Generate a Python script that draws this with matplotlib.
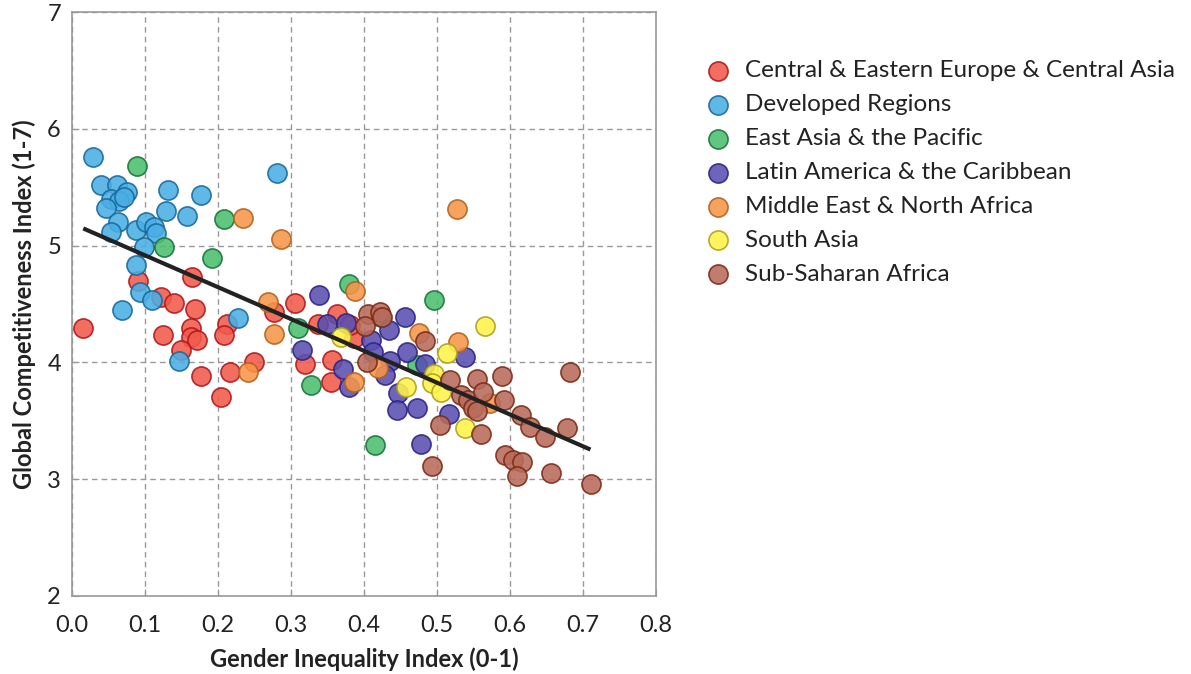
import matplotlib.pyplot as plt
import numpy as np

# Gender Inequality Index (x) vs Global Competitiveness Index (y), by region
cee_x = [0.015, 0.090, 0.164, 0.122, 0.140, 0.168, 0.124, 0.163, 0.163, 0.171, 0.150, 0.213, 0.208,
         0.250, 0.217, 0.177, 0.204, 0.277, 0.305, 0.337, 0.363, 0.386, 0.319, 0.357, 0.355, 0.381]
cee_y = [4.29, 4.70, 4.73, 4.56, 4.51, 4.46, 4.23, 4.29, 4.22, 4.19, 4.11, 4.33, 4.23,
         4.00, 3.92, 3.88, 3.70, 4.43, 4.51, 4.33, 4.41, 4.21, 3.99, 4.02, 3.83, 4.32]

dev_x = [0.029, 0.040, 0.061, 0.076, 0.053, 0.065, 0.071, 0.046, 0.132, 0.177, 0.281, 0.129, 0.158,
         0.063, 0.053, 0.088, 0.101, 0.113, 0.115, 0.099, 0.087, 0.093, 0.109, 0.068, 0.228, 0.147]
dev_y = [5.76, 5.52, 5.52, 5.46, 5.40, 5.38, 5.42, 5.32, 5.48, 5.43, 5.62, 5.30, 5.25,
         5.20, 5.12, 5.13, 5.20, 5.16, 5.11, 4.99, 4.83, 4.60, 4.53, 4.45, 4.38, 4.01]

eap_x = [0.089, 0.208, 0.126, 0.192, 0.380, 0.310, 0.328, 0.473, 0.496, 0.415, 0.424]
eap_y = [5.68, 5.23, 4.99, 4.89, 4.67, 4.29, 3.81, 3.98, 4.53, 3.29, 4.39]

lac_x = [0.338, 0.350, 0.375, 0.315, 0.372, 0.379, 0.410, 0.413, 0.434, 0.456, 0.459, 0.436, 0.429,
         0.447, 0.445, 0.473, 0.538, 0.484, 0.517, 0.478]
lac_y = [4.58, 4.33, 4.34, 4.11, 3.94, 3.79, 4.19, 4.09, 4.28, 4.39, 4.09, 4.01, 3.89,
         3.74, 3.59, 3.61, 4.05, 3.99, 3.56, 3.30]

mena_x = [0.234, 0.286, 0.269, 0.277, 0.241, 0.388, 0.387, 0.420, 0.475, 0.528, 0.529, 0.573]
mena_y = [5.24, 5.06, 4.52, 4.24, 3.92, 4.61, 3.83, 3.95, 4.25, 5.31, 4.17, 3.65]

sa_x = [0.369, 0.458, 0.566, 0.514, 0.496, 0.494, 0.506, 0.538]
sa_y = [4.22, 3.79, 4.31, 4.08, 3.90, 3.82, 3.75, 3.44]

ssa_x = [0.406, 0.422, 0.402, 0.404, 0.484, 0.589, 0.555, 0.518, 0.682, 0.533, 0.543, 0.564, 0.592,
         0.550, 0.555, 0.616, 0.628, 0.649, 0.679, 0.505, 0.561, 0.593, 0.605, 0.617, 0.610, 0.656,
         0.712, 0.493, 0.425]
ssa_y = [4.41, 4.43, 4.31, 4.00, 4.18, 3.88, 3.86, 3.85, 3.92, 3.72, 3.68, 3.75, 3.68,
         3.61, 3.58, 3.55, 3.45, 3.36, 3.44, 3.46, 3.39, 3.21, 3.16, 3.15, 3.03, 3.05,
         2.96, 3.11, 4.39]

trend_x = [0.018, 0.708]
trend_y = [5.14, 3.26]

regions = [
    ("Central & Eastern Europe & Central Asia", cee_x, cee_y, '#f05a4b', '#b0151a'),
    ("Developed Regions", dev_x, dev_y, '#4aaee4', '#17679a'),
    ("East Asia & the Pacific", eap_x, eap_y, '#4bbf6e', '#17733a'),
    ("Latin America & the Caribbean", lac_x, lac_y, '#5a4fb0', '#2b2383'),
    ("Middle East & North Africa", mena_x, mena_y, '#f7964a', '#b3601c'),
    ("South Asia", sa_x, sa_y, '#fff34a', '#a8a01a'),
    ("Sub-Saharan Africa", ssa_x, ssa_y, '#b86b5b', '#7a2a14'),
]

plt.rcParams['font.family'] = ['Lato', 'DejaVu Sans']

fig = plt.figure(figsize=(11.91, 6.74), dpi=100)
ax = fig.add_axes([0.0605, 0.116, 0.490, 0.866])

handles = []
for name, xs, ys, fc, ec in regions:
    h = ax.scatter(xs, ys, s=190, c=fc, edgecolors=ec, linewidths=1.2,
                   alpha=0.88, label=name, zorder=3)
    handles.append(h)

ax.plot(trend_x, trend_y, color='#222222', linewidth=3, zorder=4)

ax.set_xlim(0, 0.8)
ax.set_ylim(2, 7)
ax.set_xticks(np.arange(0, 0.81, 0.1))
ax.set_xticklabels(['0.0', '0.1', '0.2', '0.3', '0.4', '0.5', '0.6', '0.7', '0.8'])
ax.set_yticks([2, 3, 4, 5, 6, 7])
ax.grid(True, color='#999999', linestyle=(0, (4, 3)), linewidth=1.0, zorder=0)
ax.set_axisbelow(True)
for sp in ax.spines.values():
    sp.set_color('#999999')
    sp.set_linewidth(1.2)
ax.tick_params(axis='both', direction='in', length=5, color='#999999',
               labelsize=17, labelcolor='#222222')
ax.tick_params(axis='x', pad=14)
ax.tick_params(axis='y', pad=8)

ax.set_xlabel('Gender Inequality Index (0-1)', fontsize=17, fontweight='bold',
              color='#222222', labelpad=8)
ax.set_ylabel('Global Competitiveness Index (1-7)', fontsize=17, fontweight='bold',
              color='#222222', labelpad=8)

fig.legend(handles=handles, loc='upper left', bbox_to_anchor=(0.570, 0.943),
           frameon=False, fontsize=17.5, handlelength=1.4, handletextpad=0.42,
           labelspacing=0.53, markerscale=1.0, labelcolor='#222222')

fig.savefig('out.png', dpi=100)
